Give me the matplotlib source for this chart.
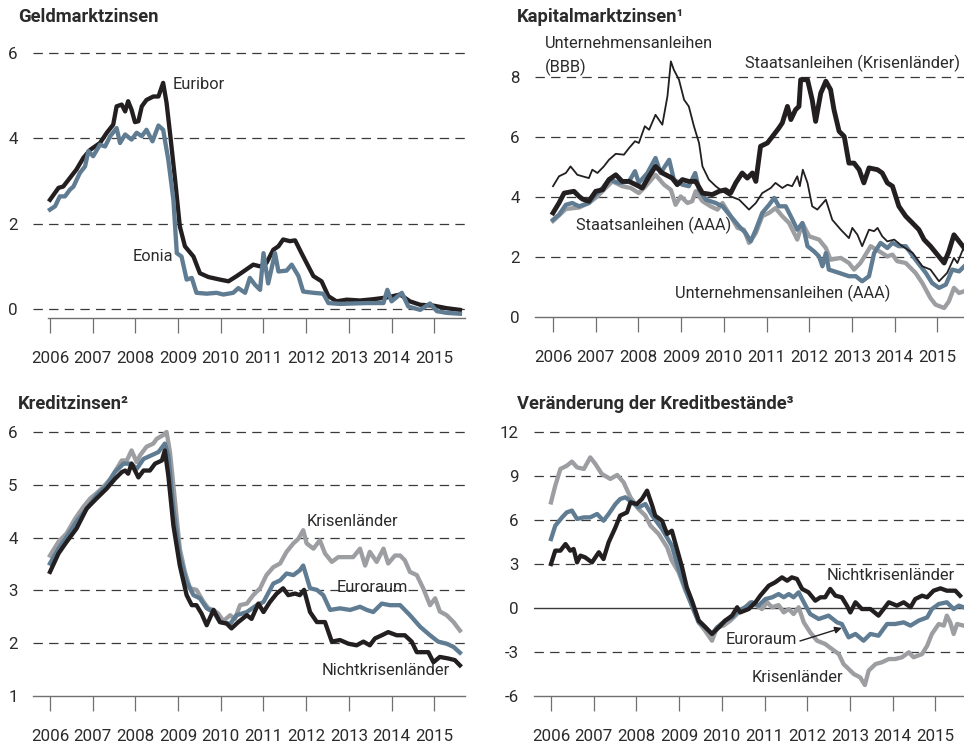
import numpy as np
import matplotlib
matplotlib.use("Agg")
import matplotlib.pyplot as plt

plt.rcParams['font.family'] = ['Roboto', 'DejaVu Sans']

# ---------------- data (decimal years) ----------------
years = list(range(2006, 2016))

# Geldmarktzinsen
euribor_t = [2006.00, 2006.20, 2006.31, 2006.62, 2006.78, 2006.94, 2007.17, 2007.33, 2007.48, 2007.56,
             2007.68, 2007.76, 2007.83, 2007.91, 2007.99, 2008.07, 2008.15, 2008.26, 2008.42, 2008.54,
             2008.65, 2008.73, 2008.81, 2008.93, 2009.04, 2009.16, 2009.36, 2009.51, 2009.71, 2009.98,
             2010.18, 2010.37, 2010.53, 2010.76, 2010.92, 2011.07, 2011.23, 2011.35, 2011.46, 2011.62,
             2011.74, 2011.89, 2012.05, 2012.17, 2012.36, 2012.52, 2012.71, 2012.95, 2013.26, 2013.57,
             2013.88, 2014.20, 2014.43, 2014.67, 2014.98, 2015.29, 2015.60]
euribor_v = [2.56, 2.84, 2.87, 3.27, 3.54, 3.73, 3.89, 4.13, 4.32, 4.75,
             4.79, 4.63, 4.87, 4.67, 4.38, 4.40, 4.75, 4.90, 4.98, 4.98,
             5.30, 4.83, 4.13, 3.03, 1.94, 1.47, 1.23, 0.84, 0.75, 0.69,
             0.65, 0.77, 0.88, 1.04, 1.00, 1.08, 1.39, 1.47, 1.63, 1.59,
             1.61, 1.31, 1.00, 0.77, 0.65, 0.30, 0.18, 0.22, 0.20, 0.23,
             0.27, 0.34, 0.18, 0.10, 0.08, 0.02, -0.02]

eonia_t = [2006.00, 2006.12, 2006.23, 2006.35, 2006.47, 2006.55, 2006.70, 2006.82, 2006.90, 2007.01,
           2007.17, 2007.29, 2007.41, 2007.56, 2007.64, 2007.76, 2007.91, 2008.03, 2008.15, 2008.26,
           2008.40, 2008.54, 2008.65, 2008.77, 2008.89, 2008.97, 2009.08, 2009.20, 2009.32, 2009.43,
           2009.67, 2009.90, 2010.06, 2010.29, 2010.41, 2010.57, 2010.68, 2010.80, 2010.92, 2011.00,
           2011.11, 2011.27, 2011.35, 2011.54, 2011.66, 2011.82, 2011.93, 2012.17, 2012.40, 2012.52,
           2012.79, 2013.10, 2013.42, 2013.81, 2013.90, 2014.00, 2014.24, 2014.39, 2014.67, 2014.90,
           2015.06, 2015.29, 2015.60]
eonia_v = [2.33, 2.41, 2.64, 2.64, 2.80, 2.87, 3.19, 3.34, 3.70, 3.58,
           3.85, 3.81, 4.05, 4.24, 3.89, 4.09, 3.97, 4.13, 4.05, 4.20,
           3.93, 4.30, 4.20, 3.50, 2.56, 1.31, 1.23, 0.69, 0.73, 0.38,
           0.36, 0.38, 0.34, 0.38, 0.49, 0.38, 0.73, 0.57, 0.45, 1.31,
           0.60, 1.31, 0.88, 0.90, 1.04, 0.77, 0.41, 0.38, 0.36, 0.14,
           0.12, 0.13, 0.14, 0.14, 0.45, 0.18, 0.38, 0.06, -0.02, 0.13,
           -0.05, -0.09, -0.11]

# Kapitalmarktzinsen
bbb_t = [2006.00, 2006.14, 2006.30, 2006.41, 2006.57, 2006.69, 2006.84, 2006.92, 2007.04, 2007.19,
         2007.31, 2007.47, 2007.66, 2007.78, 2007.92, 2008.01, 2008.15, 2008.25, 2008.40, 2008.56,
         2008.68, 2008.76, 2008.83, 2008.95, 2009.07, 2009.18, 2009.30, 2009.42, 2009.50, 2009.65,
         2009.81, 2009.97, 2010.16, 2010.36, 2010.59, 2010.75, 2010.90, 2011.10, 2011.21, 2011.37,
         2011.49, 2011.60, 2011.72, 2011.78, 2011.85, 2011.96, 2012.07, 2012.19, 2012.39, 2012.54,
         2012.74, 2012.93, 2013.01, 2013.13, 2013.24, 2013.40, 2013.52, 2013.60, 2013.71, 2013.83,
         2013.99, 2014.18, 2014.42, 2014.65, 2014.84, 2015.04, 2015.23, 2015.39, 2015.47, 2015.63]
bbb_v = [4.36, 4.69, 4.80, 5.02, 4.74, 4.69, 4.63, 4.91, 4.80, 5.02,
         5.24, 5.44, 5.41, 5.63, 5.86, 5.80, 6.36, 6.24, 6.74, 6.41,
         7.36, 8.52, 8.24, 7.91, 7.24, 7.02, 6.36, 5.80, 5.02, 4.58,
         4.36, 4.19, 4.02, 3.91, 3.58, 3.80, 4.13, 4.30, 4.47, 4.30,
         4.41, 4.36, 4.69, 4.36, 4.91, 4.47, 3.69, 3.58, 3.91, 3.24,
         2.91, 2.63, 2.97, 2.74, 2.36, 2.91, 2.86, 2.97, 2.69, 2.52,
         2.58, 2.36, 2.14, 1.69, 1.58, 1.19, 1.47, 1.97, 1.80, 2.36]

krisen_bond_t = [2006.00, 2006.14, 2006.26, 2006.49, 2006.61, 2006.69, 2006.84, 2007.00, 2007.16, 2007.31,
                 2007.47, 2007.62, 2007.78, 2007.94, 2008.09, 2008.25, 2008.40, 2008.56, 2008.79, 2008.91,
                 2009.03, 2009.18, 2009.34, 2009.50, 2009.73, 2009.89, 2010.04, 2010.16, 2010.28, 2010.43,
                 2010.55, 2010.67, 2010.75, 2010.86, 2011.02, 2011.14, 2011.29, 2011.37, 2011.49, 2011.57,
                 2011.68, 2011.76, 2011.80, 2011.96, 2012.07, 2012.15, 2012.27, 2012.39, 2012.50, 2012.58,
                 2012.70, 2012.82, 2012.93, 2013.05, 2013.17, 2013.28, 2013.40, 2013.60, 2013.71, 2013.83,
                 2013.95, 2014.10, 2014.26, 2014.42, 2014.57, 2014.69, 2014.84, 2015.00, 2015.16, 2015.27,
                 2015.39, 2015.51, 2015.63]
krisen_bond_v = [3.47, 3.80, 4.13, 4.19, 4.02, 3.93, 3.86, 4.19, 4.24, 4.58,
                 4.74, 4.52, 4.52, 4.41, 4.30, 4.69, 5.02, 4.80, 4.63, 4.41,
                 4.58, 4.52, 4.52, 4.13, 4.08, 4.19, 4.24, 4.13, 4.47, 4.80,
                 4.63, 4.80, 4.52, 5.69, 5.80, 6.02, 6.30, 6.47, 7.02, 6.58,
                 6.91, 7.02, 7.91, 7.91, 7.24, 6.52, 7.46, 7.86, 7.58, 6.91,
                 6.19, 6.02, 5.13, 5.13, 4.91, 4.47, 4.97, 4.91, 4.80, 4.47,
                 4.36, 3.69, 3.36, 3.13, 2.91, 2.58, 2.36, 2.08, 1.80, 2.19,
                 2.74, 2.52, 2.30]

aaa_gov_t = [2006.00, 2006.14, 2006.30, 2006.45, 2006.61, 2006.84, 2007.00, 2007.16, 2007.31, 2007.55,
             2007.78, 2007.92, 2008.01, 2008.21, 2008.40, 2008.52, 2008.72, 2008.83, 2009.03, 2009.18,
             2009.33, 2009.42, 2009.58, 2009.81, 2009.97, 2010.16, 2010.36, 2010.51, 2010.63, 2010.75,
             2010.90, 2011.06, 2011.18, 2011.29, 2011.45, 2011.61, 2011.72, 2011.84, 2011.96, 2012.11,
             2012.23, 2012.31, 2012.39, 2012.46, 2012.70, 2012.93, 2013.09, 2013.24, 2013.40, 2013.52,
             2013.67, 2013.83, 2013.95, 2014.10, 2014.26, 2014.49, 2014.73, 2014.88, 2015.04, 2015.20,
             2015.35, 2015.51, 2015.63]
aaa_gov_v = [3.24, 3.41, 3.74, 3.80, 3.69, 3.80, 4.08, 4.30, 4.58, 4.47,
             4.52, 4.86, 4.47, 4.80, 5.30, 4.80, 5.24, 4.58, 4.41, 4.36,
             4.80, 4.24, 3.91, 3.80, 3.69, 3.36, 3.02, 2.80, 2.52, 2.91,
             3.47, 3.74, 3.97, 3.69, 3.69, 3.24, 2.91, 3.13, 2.36, 2.19,
             2.02, 1.69, 2.13, 1.58, 1.47, 1.36, 1.36, 1.19, 1.36, 2.13,
             2.47, 2.30, 2.47, 2.36, 2.36, 1.91, 1.47, 1.13, 0.97, 1.08,
             1.58, 1.52, 1.69]

aaa_corp_t = [2006.00, 2006.30, 2006.61, 2006.84, 2007.04, 2007.19, 2007.39, 2007.62, 2007.82, 2008.01,
              2008.17, 2008.40, 2008.60, 2008.76, 2008.87, 2008.99, 2009.15, 2009.26, 2009.34, 2009.50,
              2009.69, 2009.85, 2009.97, 2010.16, 2010.32, 2010.47, 2010.59, 2010.75, 2010.90, 2011.06,
              2011.21, 2011.37, 2011.53, 2011.72, 2011.84, 2012.00, 2012.23, 2012.39, 2012.50, 2012.74,
              2012.93, 2013.05, 2013.20, 2013.44, 2013.64, 2013.83, 2013.95, 2014.06, 2014.26, 2014.49,
              2014.65, 2014.84, 2014.96, 2015.16, 2015.27, 2015.39, 2015.51, 2015.63]
aaa_corp_v = [3.20, 3.60, 3.65, 3.80, 4.02, 4.24, 4.52, 4.36, 4.30, 4.13,
              4.36, 4.74, 4.41, 4.24, 3.74, 4.02, 3.80, 3.86, 4.19, 3.86,
              3.69, 3.58, 3.80, 3.36, 2.97, 2.91, 2.47, 2.80, 3.36, 3.47,
              3.63, 3.36, 3.13, 2.58, 3.13, 2.69, 2.58, 2.30, 1.91, 1.97,
              1.80, 1.58, 1.80, 2.36, 2.19, 2.02, 2.08, 1.86, 1.80, 1.47,
              1.13, 0.63, 0.41, 0.30, 0.52, 0.97, 0.80, 0.86]

# Kreditzinsen
kz_krisen_t = [2006.00, 2006.20, 2006.39, 2006.59, 2006.78, 2006.94, 2007.09, 2007.25, 2007.41, 2007.56,
               2007.68, 2007.80, 2007.91, 2008.03, 2008.11, 2008.26, 2008.42, 2008.50, 2008.65, 2008.73,
               2008.81, 2008.93, 2009.04, 2009.16, 2009.28, 2009.43, 2009.59, 2009.71, 2009.83, 2009.94,
               2010.06, 2010.22, 2010.33, 2010.45, 2010.61, 2010.76, 2010.92, 2011.07, 2011.23, 2011.39,
               2011.54, 2011.70, 2011.82, 2011.93, 2012.01, 2012.17, 2012.32, 2012.44, 2012.60, 2012.75,
               2012.95, 2013.10, 2013.26, 2013.38, 2013.49, 2013.65, 2013.81, 2013.92, 2014.08, 2014.20,
               2014.31, 2014.43, 2014.59, 2014.74, 2014.90, 2015.02, 2015.13, 2015.29, 2015.45, 2015.60]
kz_krisen_v = [3.66, 3.92, 4.08, 4.36, 4.58, 4.74, 4.84, 4.96, 5.11, 5.30,
               5.46, 5.46, 5.65, 5.43, 5.56, 5.72, 5.78, 5.87, 5.94, 6.00,
               5.62, 4.67, 3.79, 3.35, 3.04, 3.01, 2.79, 2.66, 2.63, 2.56,
               2.42, 2.53, 2.46, 2.72, 2.75, 2.91, 3.04, 3.29, 3.44, 3.51,
               3.73, 3.89, 3.98, 4.14, 3.89, 3.79, 3.95, 3.70, 3.54, 3.63,
               3.63, 3.63, 3.79, 3.47, 3.73, 3.54, 3.79, 3.51, 3.66, 3.66,
               3.57, 3.35, 3.29, 3.04, 2.72, 2.85, 2.60, 2.53, 2.40, 2.24]

kz_euro_t = [2006.00, 2006.20, 2006.39, 2006.62, 2006.86, 2007.09, 2007.33, 2007.52, 2007.72, 2007.91,
             2008.03, 2008.19, 2008.38, 2008.54, 2008.69, 2008.77, 2008.89, 2009.04, 2009.20, 2009.36,
             2009.51, 2009.67, 2009.83, 2009.98, 2010.22, 2010.37, 2010.61, 2010.84, 2011.00, 2011.23,
             2011.39, 2011.54, 2011.70, 2011.85, 2011.93, 2012.09, 2012.25, 2012.40, 2012.56, 2012.79,
             2013.03, 2013.26, 2013.42, 2013.57, 2013.77, 2013.96, 2014.20, 2014.43, 2014.67, 2014.90,
             2015.09, 2015.29, 2015.45, 2015.60]
kz_euro_v = [3.51, 3.79, 4.01, 4.30, 4.55, 4.80, 4.99, 5.24, 5.40, 5.40,
             5.30, 5.49, 5.56, 5.62, 5.78, 5.56, 4.55, 3.66, 3.16, 2.91,
             2.85, 2.66, 2.59, 2.40, 2.37, 2.53, 2.59, 2.72, 2.78, 3.13,
             3.19, 3.32, 3.29, 3.38, 3.47, 3.04, 3.01, 2.91, 2.63, 2.66,
             2.63, 2.69, 2.63, 2.59, 2.75, 2.72, 2.72, 2.53, 2.31, 2.15,
             2.03, 1.99, 1.93, 1.82]

kz_nicht_t = [2006.00, 2006.20, 2006.39, 2006.62, 2006.86, 2007.09, 2007.33, 2007.52, 2007.68, 2007.76,
              2007.83, 2007.91, 2008.07, 2008.19, 2008.34, 2008.46, 2008.62, 2008.69, 2008.77, 2008.89,
              2009.04, 2009.20, 2009.32, 2009.43, 2009.55, 2009.67, 2009.83, 2009.98, 2010.14, 2010.25,
              2010.41, 2010.61, 2010.72, 2010.88, 2011.00, 2011.15, 2011.31, 2011.46, 2011.58, 2011.74,
              2011.85, 2011.95, 2012.09, 2012.25, 2012.44, 2012.60, 2012.79, 2012.99, 2013.18, 2013.34,
              2013.49, 2013.61, 2013.77, 2013.92, 2014.12, 2014.31, 2014.47, 2014.59, 2014.86, 2014.98,
              2015.13, 2015.33, 2015.48, 2015.60]
kz_nicht_v = [3.35, 3.70, 3.92, 4.17, 4.55, 4.74, 4.93, 5.11, 5.24, 5.27,
              5.21, 5.40, 5.14, 5.27, 5.27, 5.40, 5.46, 5.65, 5.18, 4.23,
              3.47, 2.91, 2.72, 2.72, 2.56, 2.34, 2.63, 2.40, 2.37, 2.28,
              2.40, 2.53, 2.46, 2.75, 2.59, 2.78, 2.94, 3.04, 2.91, 2.94,
              2.91, 3.01, 2.59, 2.40, 2.40, 2.03, 2.06, 1.99, 1.96, 2.03,
              1.96, 2.09, 2.15, 2.21, 2.15, 2.15, 2.03, 1.83, 1.83, 1.64,
              1.74, 1.71, 1.68, 1.58]

# Veraenderung der Kreditbestaende
kb_krisen_t = [2006.00, 2006.10, 2006.22, 2006.37, 2006.49, 2006.61, 2006.77, 2006.92, 2007.04, 2007.19,
               2007.39, 2007.55, 2007.70, 2007.86, 2008.05, 2008.21, 2008.33, 2008.52, 2008.72, 2008.83,
               2008.99, 2009.15, 2009.30, 2009.46, 2009.61, 2009.77, 2009.89, 2010.04, 2010.20, 2010.36,
               2010.55, 2010.67, 2010.82, 2010.94, 2011.06, 2011.18, 2011.33, 2011.45, 2011.57, 2011.68,
               2011.80, 2011.92, 2012.07, 2012.23, 2012.42, 2012.58, 2012.74, 2012.85, 2012.97, 2013.09,
               2013.24, 2013.35, 2013.44, 2013.60, 2013.75, 2013.91, 2014.06, 2014.22, 2014.38, 2014.49,
               2014.69, 2014.81, 2014.92, 2015.08, 2015.20, 2015.27, 2015.35, 2015.43, 2015.51, 2015.66]
kb_krisen_v = [7.20, 8.34, 9.48, 9.70, 9.98, 9.59, 9.48, 10.27, 9.82, 9.14,
               8.80, 9.07, 8.57, 7.55, 6.75, 6.30, 5.61, 5.05, 4.14, 3.23,
               2.43, 1.18, 0.16, -0.98, -1.55, -2.23, -1.32, -1.20, -0.86, -0.41,
               0.05, 0.39, 0.16, -0.07, 0.39, 0.05, 0.20, -0.30, -0.07, -0.41,
               0.05, -0.98, -1.66, -2.23, -2.45, -2.80, -3.14, -3.82, -4.16, -4.50,
               -4.73, -5.25, -4.27, -3.82, -3.70, -3.48, -3.48, -3.36, -3.02, -3.36,
               -3.14, -2.57, -1.77, -1.09, -1.20, -0.52, -0.98, -1.77, -1.09, -1.20]

kb_euro_t = [2006.00, 2006.10, 2006.26, 2006.37, 2006.49, 2006.61, 2006.77, 2006.92, 2007.08, 2007.23,
             2007.35, 2007.51, 2007.62, 2007.74, 2007.90, 2008.05, 2008.21, 2008.37, 2008.60, 2008.83,
             2008.99, 2009.15, 2009.30, 2009.46, 2009.61, 2009.77, 2009.89, 2010.08, 2010.24, 2010.39,
             2010.55, 2010.71, 2010.86, 2011.02, 2011.18, 2011.33, 2011.45, 2011.57, 2011.68, 2011.80,
             2011.92, 2012.07, 2012.27, 2012.50, 2012.70, 2012.81, 2012.97, 2013.13, 2013.32, 2013.48,
             2013.67, 2013.87, 2014.06, 2014.26, 2014.42, 2014.61, 2014.81, 2014.92, 2015.08, 2015.27,
             2015.43, 2015.55, 2015.66]
kb_euro_v = [4.70, 5.61, 6.18, 6.52, 6.64, 6.07, 6.18, 6.18, 6.41, 5.95,
             6.41, 7.09, 7.43, 7.55, 7.20, 6.86, 7.09, 6.30, 5.39, 4.25,
             2.66, 1.30, 0.16, -0.98, -1.32, -1.77, -1.32, -0.86, -0.64, -0.18,
             0.05, 0.39, 0.16, 0.61, 0.73, 0.95, 0.73, 0.95, 0.73, 1.07,
             0.39, -0.41, -0.75, -0.52, -0.98, -1.09, -2.00, -1.77, -2.23, -1.77,
             -1.89, -1.09, -1.09, -0.98, -1.20, -0.86, -0.64, -0.07, 0.27, 0.39,
             -0.07, 0.16, 0.05]

kb_nicht_t = [2006.00, 2006.10, 2006.22, 2006.34, 2006.45, 2006.53, 2006.61, 2006.69, 2006.80, 2006.96,
              2007.12, 2007.23, 2007.35, 2007.51, 2007.62, 2007.78, 2007.86, 2008.01, 2008.13, 2008.25,
              2008.37, 2008.44, 2008.60, 2008.72, 2008.83, 2008.95, 2009.07, 2009.18, 2009.30, 2009.46,
              2009.58, 2009.77, 2009.93, 2010.08, 2010.24, 2010.36, 2010.43, 2010.63, 2010.79, 2010.90,
              2011.10, 2011.25, 2011.41, 2011.53, 2011.64, 2011.76, 2011.88, 2012.03, 2012.19, 2012.31,
              2012.42, 2012.54, 2012.66, 2012.81, 2012.93, 2013.01, 2013.13, 2013.28, 2013.48, 2013.67,
              2013.79, 2013.91, 2014.10, 2014.26, 2014.42, 2014.53, 2014.69, 2014.81, 2014.96, 2015.12,
              2015.27, 2015.47, 2015.58]
kb_nicht_v = [3.00, 3.91, 3.91, 4.36, 3.91, 4.02, 3.11, 3.57, 3.45, 3.11,
              3.80, 3.34, 4.48, 5.50, 6.30, 6.52, 7.20, 7.09, 7.43, 8.00,
              6.98, 6.30, 5.95, 5.05, 5.27, 4.02, 2.77, 1.41, 0.50, -0.86,
              -1.20, -1.77, -1.32, -0.86, -0.52, 0.05, -0.30, -0.07, 0.39, 0.84,
              1.52, 1.75, 2.09, 1.86, 2.09, 1.98, 1.30, 1.07, 0.50, 0.73,
              0.73, 1.30, 0.84, 0.73, 0.16, -0.30, 0.39, -0.07, -0.07, -0.52,
              -0.07, 0.39, 0.16, 0.39, 0.05, 0.61, 0.84, 0.73, 1.18, 1.34,
              1.18, 1.18, 0.84]

# ---------------- styling ----------------
BLACK = '#231f20'
BLUE = '#5f7c93'
GREY = '#9c9ea1'
GRID = '#3a3a3a'
AXIS = '#707070'
TXT = '#2b2b2b'
FS = 11.8

W, H = 964, 749
fig = plt.figure(figsize=(W / 100, H / 100), dpi=100)


def px_axes(left, top, right, bottom):
    return fig.add_axes([left / W, 1 - bottom / H, (right - left) / W, (bottom - top) / H])


def setup(ax, xlim, ylim, yticks, dashed, spine_from=None):
    ax.set_xlim(*xlim)
    ax.set_ylim(*ylim)
    for s in ['top', 'right', 'left']:
        ax.spines[s].set_visible(False)
    ax.spines['bottom'].set_color(AXIS)
    ax.spines['bottom'].set_linewidth(1.0)
    if spine_from is not None:
        ax.spines['bottom'].set_bounds(spine_from, xlim[1])
    for y in dashed:
        ax.axhline(y, color=GRID, lw=0.9, dashes=(7.5, 5), zorder=1)
    ax.set_xticks(years)
    ax.set_xticklabels([str(y) for y in years])
    ax.set_yticks(yticks)
    ax.set_yticklabels([str(y) for y in yticks])
    ax.tick_params(axis='x', direction='out', length=11, width=0.9, color=AXIS,
                   pad=13, labelsize=FS + 0.4, labelcolor=TXT)
    ax.tick_params(axis='y', length=0, pad=11, labelsize=FS + 0.4, labelcolor=TXT)
    ax.patch.set_alpha(0)


def label(ax, x, y, s, ha='left'):
    ax.text(x, y, s, ha=ha, va='center', fontsize=FS, color=TXT, zorder=10)


lw_thick = 3.1

# --- Panel 1: Geldmarktzinsen
ax1 = px_axes(33, 48.7, 465, 318)
setup(ax1, (2005.602, 2015.719), (-0.21, 6.1), [0, 2, 4, 6], [0, 2, 4, 6], spine_from=2005.953)
ax1.plot(euribor_t, euribor_v, color=BLACK, lw=lw_thick, zorder=3)
ax1.plot(eonia_t, eonia_v, color=BLUE, lw=lw_thick, zorder=4)
label(ax1, 2008.88, 5.25, 'Euribor')
label(ax1, 2008.88, 1.22, 'Eonia', ha='right')

# --- Panel 2: Kapitalmarktzinsen
ax2 = px_axes(535, 56, 964, 317)
setup(ax2, (2005.578, 2015.625), (0, 8.7), [0, 2, 4, 6, 8], [2, 4, 6, 8])
ax2.plot(aaa_corp_t, aaa_corp_v, color=GREY, lw=lw_thick, zorder=3)
ax2.plot(aaa_gov_t, aaa_gov_v, color=BLUE, lw=lw_thick, zorder=4)
ax2.plot(bbb_t, bbb_v, color=BLACK, lw=1.3, zorder=5)
ax2.plot(krisen_bond_t, krisen_bond_v, color=BLACK, lw=3.5, zorder=6)
label(ax2, 2005.81, 9.13, 'Unternehmensanleihen')
label(ax2, 2005.81, 8.33, '(BBB)')
label(ax2, 2015.52, 8.47, 'Staatsanleihen (Krisenländer)', ha='right')
label(ax2, 2006.54, 3.07, 'Staatsanleihen (AAA)')
label(ax2, 2008.86, 0.80, 'Unternehmensanleihen (AAA)')

# --- Panel 3: Kreditzinsen
ax3 = px_axes(33, 426.7, 465, 696)
setup(ax3, (2005.602, 2015.719), (1, 6.1), [1, 2, 3, 4, 5, 6], [2, 3, 4, 5, 6])
ax3.plot(kz_krisen_t, kz_krisen_v, color=GREY, lw=lw_thick, zorder=3)
ax3.plot(kz_euro_t, kz_euro_v, color=BLUE, lw=lw_thick, zorder=4)
ax3.plot(kz_nicht_t, kz_nicht_v, color=BLACK, lw=lw_thick, zorder=5)
label(ax3, 2012.02, 4.31, 'Krisenländer')
label(ax3, 2012.72, 3.06, 'Euroraum')
label(ax3, 2012.35, 1.49, 'Nichtkrisenländer')

# --- Panel 4: Veraenderung der Kreditbestaende
ax4 = px_axes(534, 427.6, 964, 696)
setup(ax4, (2005.602, 2015.672), (-6, 12.3), [-6, -3, 0, 3, 6, 9, 12], [-3, 3, 6, 9, 12])
ax4.axhline(0, color=GRID, lw=1.0, zorder=1)
ax4.plot(kb_krisen_t, kb_krisen_v, color=GREY, lw=lw_thick, zorder=3)
ax4.plot(kb_euro_t, kb_euro_v, color=BLUE, lw=lw_thick, zorder=4)
ax4.plot(kb_nicht_t, kb_nicht_v, color=BLACK, lw=lw_thick, zorder=5)
label(ax4, 2012.46, 2.25, 'Nichtkrisenländer')
label(ax4, 2011.76, -2.18, 'Euroraum', ha='right')
label(ax4, 2012.84, -4.77, 'Krisenländer', ha='right')
ax4.annotate('', xy=(2012.81, -1.36), xytext=(2011.83, -2.25),
             arrowprops=dict(arrowstyle='-|>', color=BLACK, lw=1.0, mutation_scale=10,
                             shrinkA=0, shrinkB=0), zorder=10)

# --- titles
title_kw = dict(fontsize=13.2, fontweight='bold', color=TXT, va='center', ha='left')
fig.text(18 / W, 1 - 17 / H, 'Geldmarktzinsen', **title_kw)
fig.text(517 / W, 1 - 17 / H, 'Kapitalmarktzinsen¹', **title_kw)
fig.text(18 / W, 1 - 404 / H, 'Kreditzinsen²', **title_kw)
fig.text(517 / W, 1 - 404 / H, 'Veränderung der Kreditbestände³', **title_kw)

fig.savefig('out.png', dpi=100)
